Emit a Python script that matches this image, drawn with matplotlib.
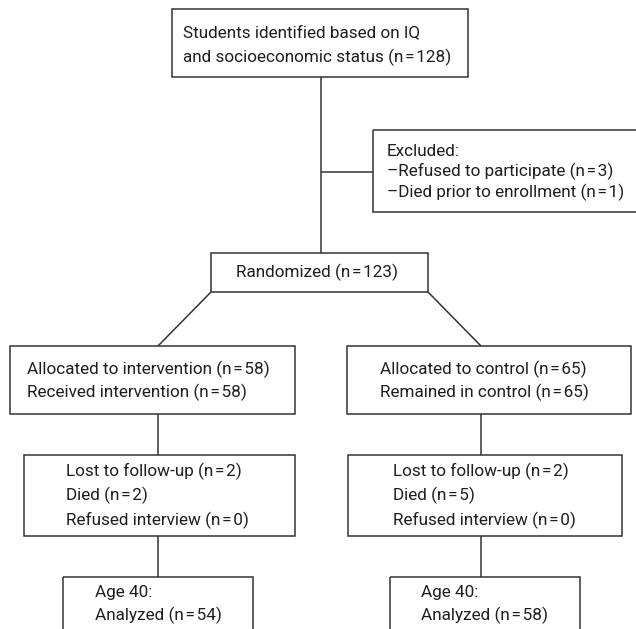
import matplotlib
matplotlib.use("Agg")
import matplotlib.pyplot as plt
from matplotlib.patches import Rectangle

# ---- data ----
n_identified = 128
n_refused_participate = 3
n_died_prior = 1
n_randomized = 123
n_alloc_intervention = 58
n_received_intervention = 58
n_alloc_control = 65
n_remained_control = 65
lost_followup = [2, 2]
died = [2, 5]
refused_interview = [0, 0]
analyzed = [54, 58]

def n(v):
    return f"(n\u200a=\u200a{v})"

texts = {
    "top": ["Students identified based on IQ",
            f"and socioeconomic status {n(n_identified)}"],
    "excl": ["Excluded:",
             f"\u2013Refused to participate {n(n_refused_participate)}",
             f"\u2013Died prior to enrollment {n(n_died_prior)}"],
    "rand": [f"Randomized {n(n_randomized)}"],
    "allocL": [f"Allocated to intervention {n(n_alloc_intervention)}",
               f"Received intervention {n(n_received_intervention)}"],
    "allocR": [f"Allocated to control {n(n_alloc_control)}",
               f"Remained in control {n(n_remained_control)}"],
    "lostL": [f"Lost to follow-up {n(lost_followup[0])}",
              f"Died {n(died[0])}",
              f"Refused interview {n(refused_interview[0])}"],
    "lostR": [f"Lost to follow-up {n(lost_followup[1])}",
              f"Died {n(died[1])}",
              f"Refused interview {n(refused_interview[1])}"],
    "anaL": ["Age 40:", f"Analyzed {n(analyzed[0])}"],
    "anaR": ["Age 40:", f"Analyzed {n(analyzed[1])}"],
}

# ---- layout (pixel coordinates, y downwards) ----
# box: (x0, y0, x1, y1), text x, first line y, line spacing
boxes = {
    "top": ((172, 9, 468, 77), 183, 33, 24),
    "excl": ((373, 130, 645, 212), 387, 151, 20.5),
    "rand": ((211, 253, 428, 292), 236, 272, 0),
    "allocL": ((10, 346, 295, 414), 27, 369, 23),
    "allocR": ((347, 346, 631, 414), 380, 369, 23),
    "lostL": ((24, 455, 295, 536), 66, 471, 24.5),
    "lostR": ((348, 455, 622, 536), 393, 471, 24.5),
    "anaL": ((63, 577, 253, 660), 95, 593, 22.5),
    "anaR": ((390, 577, 580, 660), 421, 593, 22.5),
}

LC = "#333333"
LW = 1.1

fig = plt.figure(figsize=(6.36, 6.29), dpi=100)
ax = fig.add_axes([0, 0, 1, 1])
ax.set_xlim(0, 636)
ax.set_ylim(629, 0)
ax.axis("off")

for key, ((x0, y0, x1, y1), tx, ty, dy) in boxes.items():
    ax.add_patch(Rectangle((x0, y0), x1 - x0, y1 - y0, fill=False,
                           edgecolor=LC, linewidth=LW))
    for i, line in enumerate(texts[key]):
        ax.text(tx, ty + i * dy, line, ha="left", va="center",
                fontsize=12.3, color="#1e1e1e",
                family=["Roboto", "DejaVu Sans"])

def seg(x0, y0, x1, y1):
    ax.plot([x0, x1], [y0, y1], color=LC, linewidth=LW,
            solid_capstyle="butt")

seg(321, 77, 321, 253)      # top -> randomized
seg(321, 171.5, 373, 171.5)  # branch to excluded
seg(211, 292, 158, 346)     # randomized -> left alloc
seg(428, 292, 481, 346)     # randomized -> right alloc
seg(158, 414, 158, 455)
seg(481, 414, 481, 455)
seg(158, 536, 158, 577)
seg(481, 536, 481, 577)

fig.savefig("out.png", dpi=100)
